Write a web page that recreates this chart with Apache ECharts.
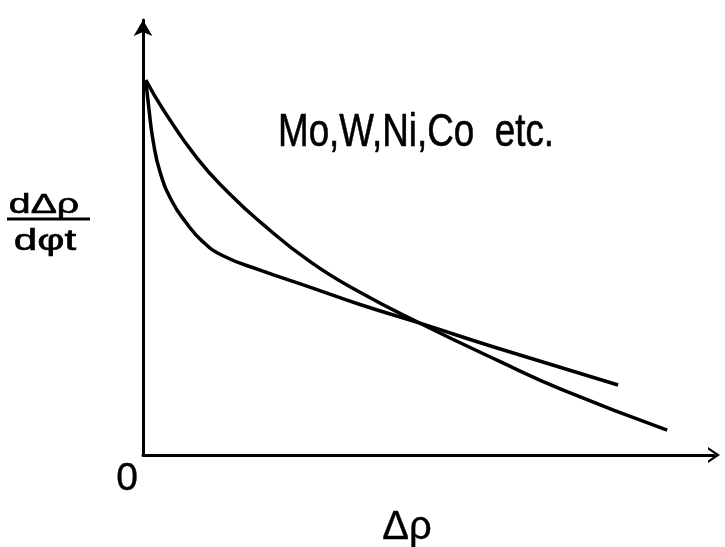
<!DOCTYPE html>
<html>
<head>
<meta charset="utf-8">
<script src="https://cdn.jsdelivr.net/npm/echarts@6/dist/echarts.min.js"></script>
<style>
  html, body { margin: 0; padding: 0; background: #fff; }
  #chart { width: 725px; height: 547px; }
</style>
</head>
<body>
<div id="chart"></div>
<script>
// Schematic: slope dΔρ/dφt against Δρ for Mo, W, Ni, Co etc.
// Two curves start at the same point, cross, and fall away at different rates.

// Curve that starts as the upper one and ends as the steeper, lower one
const curveAx = [0.05, 0.35, 0.95, 1.52, 2.05, 2.92, 3.80, 4.85, 6.20, 7.36, 9.18];
const curveAy = [8.62, 7.95, 6.82, 6.00, 5.36, 4.45, 3.74, 3.03, 2.18, 1.49, 0.57];

// Curve that drops sharply first, then flattens and ends higher
const curveBx = [0.05, 0.10, 0.18, 0.30, 0.50, 0.75, 1.05, 1.40, 2.05, 2.92, 3.80, 4.85, 6.20, 8.32];
const curveBy = [8.62, 8.00, 7.20, 6.50, 5.85, 5.35, 4.90, 4.58, 4.25, 3.86, 3.46, 3.03, 2.46, 1.61];

const axisRange = [0, 10];

const pairs = (xs, ys) => xs.map((x, i) => [x, ys[i]]);

const chart = echarts.init(document.getElementById('chart'), null, { renderer: 'canvas' });

const ink = '#000';
const chevron = 'path://M0,12 L8,0 L16,12 L13.5,12 L8,4 L2.5,12 Z';

const curveStyle = { color: ink, width: 3.5 };

const textStyle = (text, size, align, weight) => ({
  text: text,
  font: size + 'px "Liberation Sans"',
  fill: ink,
  stroke: ink,
  lineWidth: weight,
  textAlign: align,
  textVerticalAlign: 'middle'
});

chart.setOption({
  animation: false,
  backgroundColor: '#fff',
  grid: { left: 143, right: 11, top: 20, bottom: 92 },
  xAxis: {
    type: 'value',
    min: axisRange[0],
    max: axisRange[1],
    axisLine: {
      show: true,
      onZero: false,
      symbol: ['none', chevron],
      symbolSize: [16, 12],
      lineStyle: { color: ink, width: 3 }
    },
    axisTick: { show: false },
    axisLabel: { show: false },
    splitLine: { show: false }
  },
  yAxis: {
    type: 'value',
    min: axisRange[0],
    max: axisRange[1],
    axisLine: {
      show: true,
      onZero: false,
      symbol: ['none', 'arrow'],
      symbolSize: [14, 16],
      lineStyle: { color: ink, width: 3 }
    },
    axisTick: { show: false },
    axisLabel: { show: false },
    splitLine: { show: false }
  },
  series: [
    {
      name: 'A',
      type: 'line',
      data: pairs(curveAx, curveAy),
      smooth: 0.5,
      showSymbol: false,
      lineStyle: curveStyle
    },
    {
      name: 'B',
      type: 'line',
      data: pairs(curveBx, curveBy),
      smooth: 0.5,
      showSymbol: false,
      lineStyle: curveStyle
    }
  ],
  graphic: [
    { type: 'text', x: 278, y: 133, scaleX: 0.8, style: textStyle('Mo,W,Ni,Co  etc.', 46, 'left', 0.6) },
    { type: 'text', x: 44, y: 205, scaleX: 1.4, style: textStyle('dΔρ', 28, 'center', 0.6) },
    {
      type: 'line',
      shape: { x1: 7, y1: 219, x2: 90, y2: 219 },
      style: { stroke: ink, lineWidth: 3 }
    },
    { type: 'text', x: 45, y: 242, scaleX: 1.45, style: textStyle('dφt', 29, 'center', 0.6) },
    { type: 'text', x: 127, y: 479, style: textStyle('0', 39, 'center', 0.4) },
    { type: 'text', x: 407, y: 528, style: textStyle('Δρ', 40, 'center', 0.4) }
  ]
});
</script>
</body>
</html>
